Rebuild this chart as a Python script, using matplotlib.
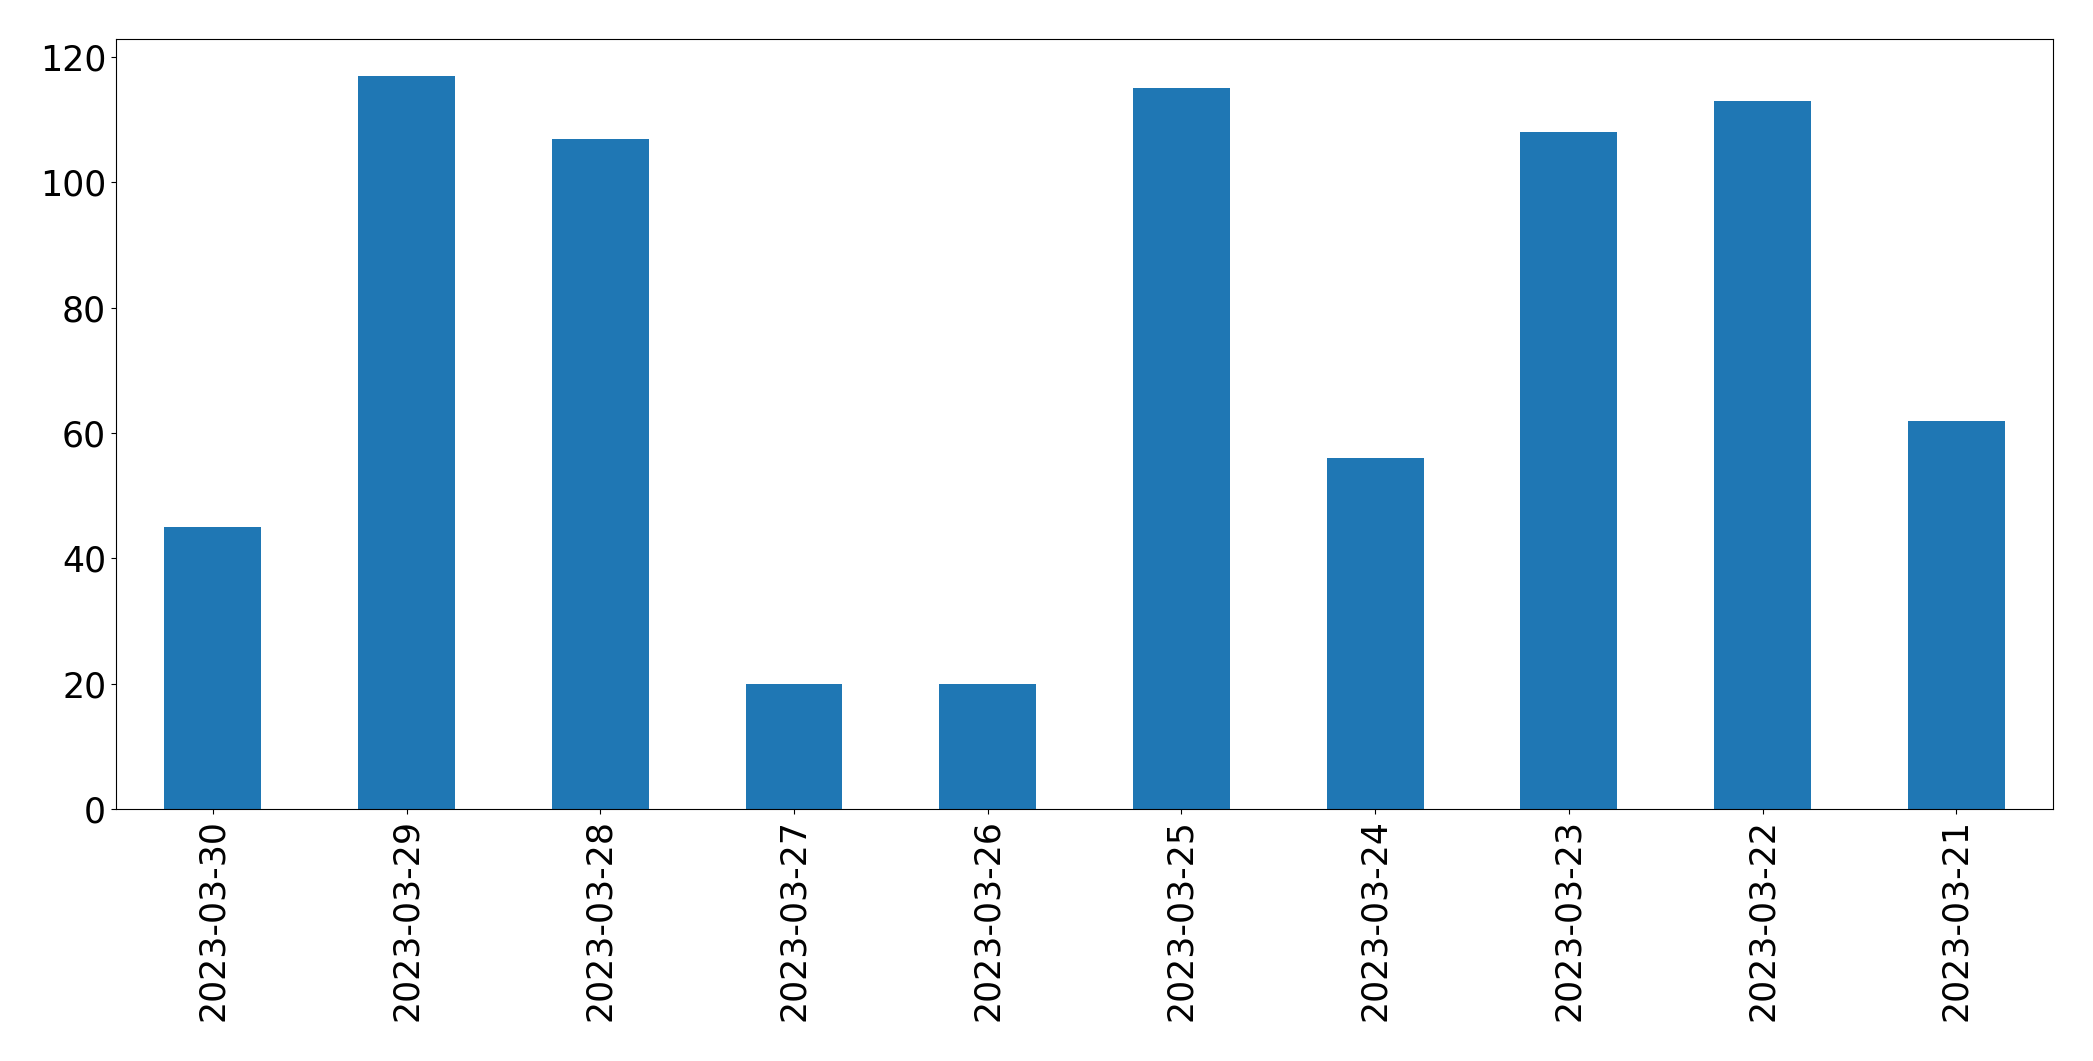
import matplotlib
matplotlib.use("Agg")
import matplotlib.pyplot as plt
import numpy as np

dates = ["2023-03-30", "2023-03-29", "2023-03-28", "2023-03-27", "2023-03-26",
         "2023-03-25", "2023-03-24", "2023-03-23", "2023-03-22", "2023-03-21"]
counts = [45, 117, 107, 20, 20, 115, 56, 108, 113, 62]

fig = plt.figure(figsize=(20.93, 10.61), dpi=100)
ax = fig.add_axes([0.0554, 0.2375, 0.9256, 0.7255])
x = np.arange(len(dates))
ax.bar(x, counts, width=0.5, color="#1f77b4")
ax.set_xlim(-0.5, len(dates) - 0.5)
ax.set_xticks(x)
ax.set_xticklabels(dates, rotation=90, fontsize=25)
ax.tick_params(axis="y", labelsize=25)
ax.set_yticks([0, 20, 40, 60, 80, 100, 120])
fig.savefig("out.png", dpi=100)
